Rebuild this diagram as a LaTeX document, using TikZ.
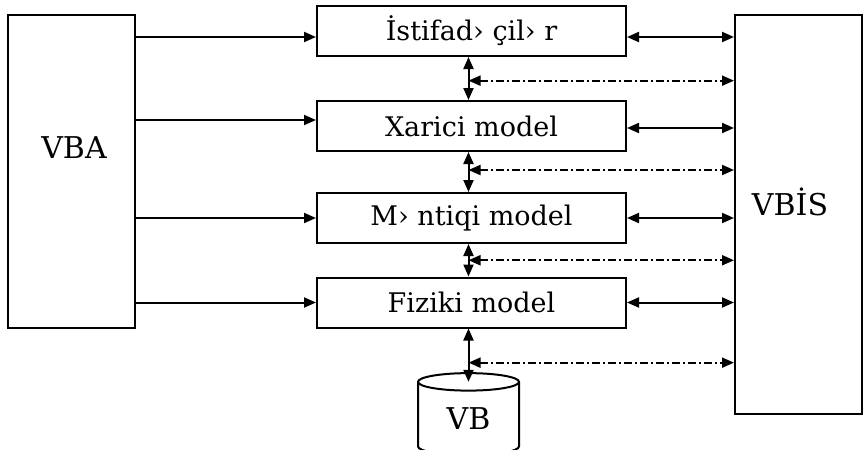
\documentclass[tikz,border=0pt]{standalone}
\usepackage{fontspec}
\setmainfont{DejaVu Serif}
\usetikzlibrary{arrows.meta,shapes.geometric,calc}

\tikzset{
  side/.style={draw, rectangle, inner sep=0pt},
  sidetext/.style={inner sep=0pt, font=\fontsize{15}{17}\selectfont},
  box/.style={draw, rectangle, inner sep=0pt, minimum width=154.5pt,
    minimum height=25pt, font=\fontsize{13.5}{16}\selectfont},
  tip/.style={-{Triangle[length=6pt,width=5pt]}},
  both/.style={{Triangle[length=6pt,width=5pt]}-{Triangle[length=6pt,width=5pt]}},
  dashboth/.style={both, dash pattern=on 4pt off 1.5pt on 1pt off 1.5pt},
}

\begin{document}
\begin{tikzpicture}[x=0.5pt, y=-0.5pt, line width=1pt]
      \def\px{0.5pt}
      \useasboundingbox (0,0) rectangle (864,450);
      %
      % outer blocks
      \node (vba) [side, minimum width=127*\px, minimum height=313*\px] at (71.5,171.5) {};
      \node (vbatext) [sidetext] at (74,148) {VBA};
      \node (vbis) [side, minimum width=127*\px, minimum height=399*\px] at (798.5,214.5) {};
      \node (vbistext) [sidetext] at (790,202) {VBİS};
      %
      % the four levels
      \node (ist) [box] at (471.5,31) {İstifad› çil› r};
      \node (xar) [box] at (471.5,126) {Xarici model};
      \node (men) [box] at (471.5,218) {M› ntiqi model};
      \node (fiz) [box] at (471.5,302.5) {Fiziki model};
      %
      % data base
      \node (vb) [draw, cylinder, shape border rotate=90, aspect=0.4,
        minimum width=101*\px, minimum height=82*\px, inner sep=0pt,
        font=\fontsize{15}{17}\selectfont] at (468.5,419) {VB};
      \coordinate (vbtop) at ($(vb.before top)!0.5!(vb.after top)$);
      %%
      % left side
      \draw[tip] ($(vba.east |- ist.west)+(0,6)$) -- ($(ist.west)+(0,6)$);
      \draw[tip] ($(vba.east |- xar.west)+(0,-6)$) -- ($(xar.west)+(0,-6)$);
      \draw[tip] (vba.east |- men.west) -- (men.west);
      \draw[tip] (vba.east |- fiz.west) -- (fiz.west);
      %%
      % right side
      \draw[both] ($(ist.east)+(0,6)$) -- ($(vbis.west |- ist.east)+(0,6)$);
      \draw[both] ($(xar.east)+(0,2)$) -- ($(vbis.west |- xar.east)+(0,2)$);
      \draw[both] (men.east) -- (vbis.west |- men.east);
      \draw[both] (fiz.east) -- (vbis.west |- fiz.east);
      %%
      % between the levels
      \draw[both] (ist.south -| vb) -- coordinate[pos=0.55] (d1) (xar.north -| vb);
      \draw[both] (xar.south -| vb) -- coordinate[pos=0.45] (d2) (men.north -| vb);
      \draw[both] (men.south -| vb) -- coordinate[pos=0.5] (d3) (fiz.north -| vb);
      \draw[both] (fiz.south -| vb) -- coordinate[pos=0.64] (d4) (vbtop);
      %
      \draw[dashboth] (d1) -- (d1 -| vbis.west);
      \draw[dashboth] (d2) -- (d2 -| vbis.west);
      \draw[dashboth] (d3) -- (d3 -| vbis.west);
      \draw[dashboth] (d4) -- (d4 -| vbis.west);
      %
\end{tikzpicture}
\end{document}
